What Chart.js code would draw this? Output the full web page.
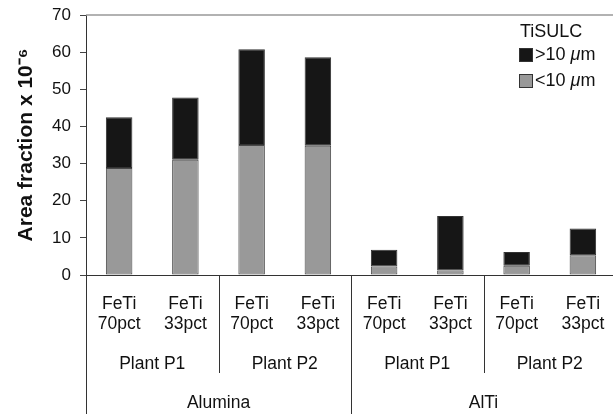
<!DOCTYPE html>
<html>
<head>
<meta charset="utf-8">
<script src="https://cdn.jsdelivr.net/npm/chart.js@4/dist/chart.umd.min.js"></script>
<style>
  html, body { margin: 0; padding: 0; background: #fff; overflow: hidden; }
  #wrap { width: 616px; height: 414px; }
</style>
</head>
<body>
<div id="wrap"><canvas id="c" width="616" height="414"></canvas></div>
<script>
// ---- data ----
const categories = [
  ["FeTi", "70pct"], ["FeTi", "33pct"], ["FeTi", "70pct"], ["FeTi", "33pct"],
  ["FeTi", "70pct"], ["FeTi", "33pct"], ["FeTi", "70pct"], ["FeTi", "33pct"]
];
const plantLabels = ["Plant P1", "Plant P2", "Plant P1", "Plant P2"];
const groupLabels = ["Alumina", "AlTi"];
const fineValues = [28.8, 31, 35, 34.8, 2.3, 1.2, 2.5, 5.3];      // <10 μm
const coarseValues = [13.7, 16.8, 25.8, 23.8, 4.5, 14.7, 3.7, 7.2]; // >10 μm (stacked on top)
const yTicks = [0, 10, 20, 30, 40, 50, 60, 70];
const legendTitle = "TiSULC";

const FONT = "'Liberation Sans', Arial, Helvetica, sans-serif";

const separatorPlugin = {
  id: 'separators',
  afterDraw(chart) {
    const ctx = chart.ctx;
    const x = chart.scales.x, x2 = chart.scales.x2, x3 = chart.scales.x3;
    const ca = chart.chartArea;
    const boundary = i => (x.getPixelForValue(i - 1) + x.getPixelForValue(i)) / 2;
    ctx.save();
    // top frame line
    ctx.beginPath();
    ctx.strokeStyle = '#999';
    ctx.lineWidth = 1.5;
    ctx.moveTo(ca.left, ca.top);
    ctx.lineTo(ca.right, ca.top);
    ctx.stroke();
    ctx.strokeStyle = '#333';
    ctx.lineWidth = 1;
    // plant separators
    [2, 6].forEach(i => {
      const px = Math.round(boundary(i)) + 0.5;
      ctx.beginPath();
      ctx.moveTo(px, ca.bottom);
      ctx.lineTo(px, x2.bottom);
      ctx.stroke();
    });
    // group separator and left edge
    [Math.round(boundary(4)) + 0.5, Math.round(ca.left) + 0.5].forEach(px => {
      ctx.beginPath();
      ctx.moveTo(px, ca.bottom);
      ctx.lineTo(px, x3.bottom);
      ctx.stroke();
    });
    ctx.restore();
  }
};

const legendPlugin = {
  id: 'customLegend',
  afterDraw(chart) {
    const ctx = chart.ctx;
    const lx = 519, ty = 32;
    ctx.save();
    ctx.fillStyle = '#111';
    ctx.textBaseline = 'middle';
    ctx.textAlign = 'left';
    ctx.font = `18px ${FONT}`;
    ctx.fillText(legendTitle, lx + 1, ty);
    const items = chart.data.datasets.slice().reverse();
    items.forEach((ds, k) => {
      const cy = 55 + k * 26;
      ctx.fillStyle = ds.backgroundColor;
      ctx.fillRect(lx, cy - 7, 14, 14);
      ctx.strokeStyle = '#333';
      ctx.lineWidth = 1;
      ctx.strokeRect(lx + 0.5, cy - 6.5, 13, 13);
      let tx = lx + 16;
      ds.legendParts.forEach(p => {
        ctx.font = (p.italic ? 'italic ' : '') + `18px ${FONT}`;
        ctx.fillStyle = '#111';
        ctx.fillText(p.t, tx, cy);
        tx += ctx.measureText(p.t).width;
      });
    });
    ctx.restore();
  }
};

new Chart(document.getElementById('c'), {
  type: 'bar',
  data: {
    labels: categories,
    datasets: [
      {
        label: '<10 μm',
        legendParts: [{t: '<10 '}, {t: 'μ', italic: true}, {t: 'm'}],
        data: fineValues,
        backgroundColor: '#999999',
        borderColor: '#4a4a4a',
        borderWidth: 1,
        borderSkipped: false,
        barPercentage: 0.4,
        categoryPercentage: 1.0
      },
      {
        label: '>10 μm',
        legendParts: [{t: '>10 '}, {t: 'μ', italic: true}, {t: 'm'}],
        data: coarseValues,
        backgroundColor: '#161616',
        borderColor: '#333',
        borderWidth: 1,
        borderSkipped: false,
        barPercentage: 0.4,
        categoryPercentage: 1.0
      }
    ]
  },
  options: {
    responsive: false,
    animation: false,
    layout: { padding: { top: 15, left: 0, right: 0, bottom: 0 } },
    plugins: { legend: { display: false }, tooltip: { enabled: false } },
    scales: {
      x: {
        stacked: true,
        position: 'bottom',
        offset: true,
        grid: { display: true, drawOnChartArea: false, drawTicks: false },
        border: { display: true, color: '#333', width: 1 },
        ticks: {
          color: '#111', padding: 19, maxRotation: 0, autoSkip: false,
          font: { family: FONT, size: 17.5, lineHeight: 1.15 }
        },
        afterFit(s) { s.height = 58; s.paddingLeft = 0; s.paddingRight = 0; }
      },
      x2: {
        type: 'category',
        position: 'bottom',
        labels: plantLabels,
        offset: true,
        grid: { display: false, drawTicks: false },
        border: { display: false },
        ticks: {
          color: '#111', padding: 21, maxRotation: 0, autoSkip: false,
          font: { family: FONT, size: 17.5, lineHeight: 1.15 }
        },
        afterFit(s) { s.height = 40; s.paddingLeft = 0; s.paddingRight = 0; }
      },
      x3: {
        type: 'category',
        position: 'bottom',
        labels: groupLabels,
        offset: true,
        grid: { display: false, drawTicks: false },
        border: { display: false },
        ticks: {
          color: '#111', padding: 20, maxRotation: 0, autoSkip: false,
          font: { family: FONT, size: 17.5, lineHeight: 1.15 }
        },
        afterFit(s) { s.height = 41; s.paddingLeft = 0; s.paddingRight = 0; }
      },
      y: {
        stacked: true,
        min: 0,
        max: 70,
        afterBuildTicks(s) { s.ticks = yTicks.map(v => ({ value: v })); },
        grid: { display: true, drawOnChartArea: false, drawTicks: true, tickLength: 6, color: '#444' },
        border: { display: true, color: '#333', width: 1 },
        ticks: {
          color: '#111', padding: 9,
          font: { family: FONT, size: 17 }
        },
        title: {
          display: true,
          text: 'Area fraction x 10⁻⁶',
          color: '#111',
          font: { family: FONT, size: 21, weight: 'bold', lineHeight: 1.2 },
          padding: { top: 14, bottom: 0 }
        },
        afterFit(s) { s.width = 86; s.paddingTop = 0; s.paddingBottom = 0; }
      }
    }
  },
  plugins: [separatorPlugin, legendPlugin]
});
</script>
</body>
</html>
